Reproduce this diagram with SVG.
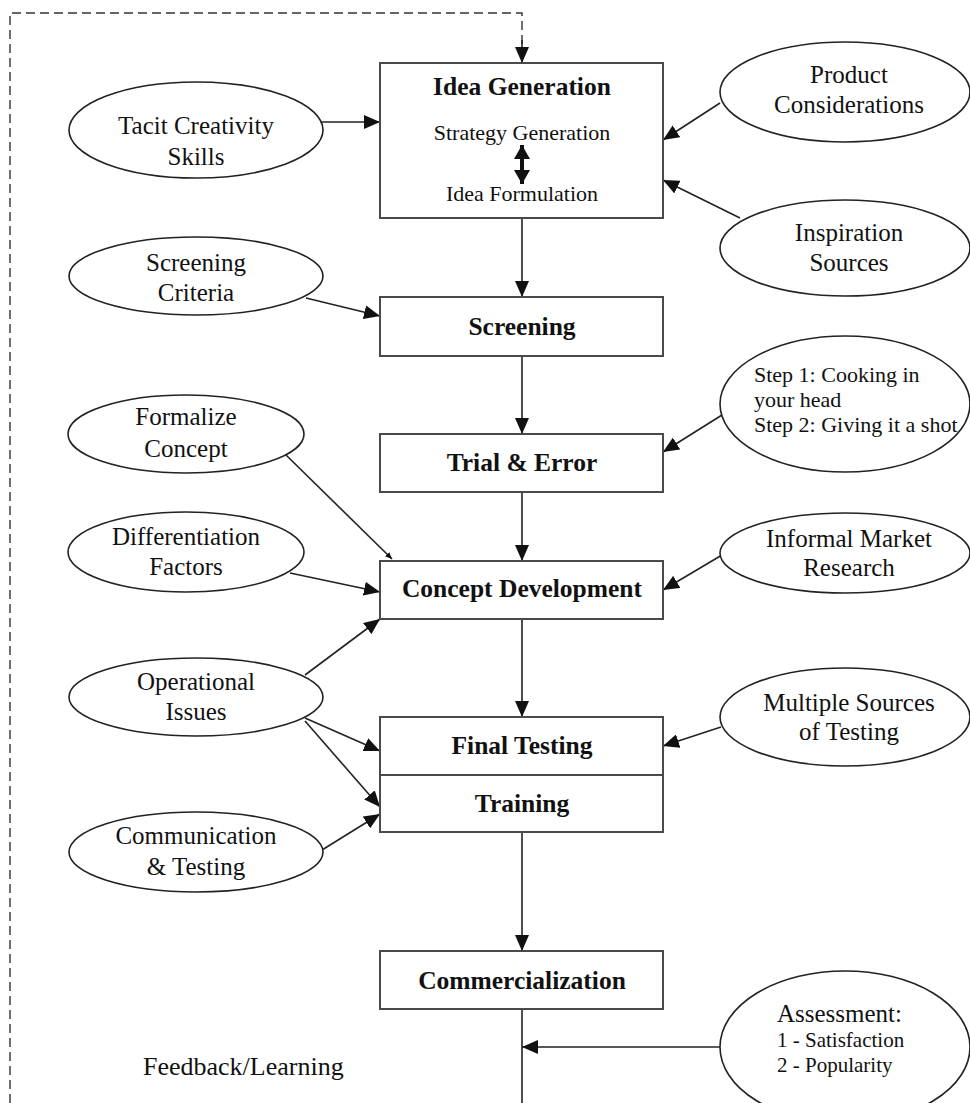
<svg xmlns="http://www.w3.org/2000/svg" width="970" height="1103" viewBox="0 0 970 1103">
  <defs>
    <marker id="head" markerUnits="userSpaceOnUse" markerWidth="16" markerHeight="14" viewBox="0 0 16 14" refX="16" refY="7" orient="auto">
      <path d="M0,0 L16,7 L0,14 z" fill="#111"/>
    </marker>
    <marker id="headSmall" markerUnits="userSpaceOnUse" markerWidth="7" markerHeight="6" viewBox="0 0 7 6" refX="7" refY="3" orient="auto">
      <path d="M0,0 L7,3 L0,6 z" fill="#111"/>
    </marker>
    <marker id="headDouble" markerUnits="userSpaceOnUse" markerWidth="14" markerHeight="16" viewBox="0 0 14 16" refX="14" refY="8" orient="auto-start-reverse">
      <path d="M0,0 L14,8 L0,16 z" fill="#111"/>
    </marker>
    <style>
      .box { fill: #fff; stroke: #4a4a4a; stroke-width: 2; }
      .oval { fill: #fff; stroke: #222; stroke-width: 1.6; }
      .title { font-family: "Liberation Serif", "Times New Roman", serif; font-weight: bold; font-size: 25.5px; fill: #111; text-anchor: middle; }
      .lbl { font-family: "Liberation Serif", "Times New Roman", serif; font-size: 25px; fill: #111; text-anchor: middle; }
      .sub { font-family: "Liberation Serif", "Times New Roman", serif; font-size: 22px; fill: #111; text-anchor: middle; }
      .subl { font-family: "Liberation Serif", "Times New Roman", serif; font-size: 22px; fill: #111; text-anchor: start; }
      .small { font-family: "Liberation Serif", "Times New Roman", serif; font-size: 21px; fill: #111; text-anchor: start; }
      .conn { fill: none; stroke: #222; stroke-width: 1.6; marker-end: url(#head); }
      .plain { fill: none; stroke: #222; stroke-width: 1.6; }
      .dash { fill: none; stroke: #333; stroke-width: 1.4; stroke-dasharray: 9 5; }
    </style>
  </defs>

  <!-- connectors -->
  <g id="connectors">
    <!-- feedback loop back to the start -->
    <path class="dash" d="M10,1103 L10,13 L522,13 L522,49"/>
    <path class="conn" d="M522,40 L522,63" stroke-dasharray="9 5"/>

    <!-- main flow -->
    <line class="conn" x1="522" y1="218" x2="522" y2="297"/>
    <line class="conn" x1="522" y1="356" x2="522" y2="434"/>
    <line class="conn" x1="522" y1="492" x2="522" y2="561"/>
    <line class="conn" x1="522" y1="619" x2="522" y2="717"/>
    <line class="conn" x1="522" y1="832" x2="522" y2="951"/>
    <line class="plain" x1="522" y1="1009" x2="522" y2="1103"/>

    <!-- inputs from the left -->
    <line class="conn" x1="322" y1="122" x2="380" y2="122"/>
    <line class="conn" x1="306" y1="298" x2="380" y2="316"/>
    <line class="plain" x1="286" y1="455" x2="392" y2="559" marker-end="url(#headSmall)"/>
    <line class="conn" x1="290" y1="573" x2="380" y2="592"/>
    <line class="conn" x1="305" y1="675" x2="380" y2="619"/>
    <line class="conn" x1="305" y1="718" x2="380" y2="751"/>
    <line class="conn" x1="305" y1="721" x2="380" y2="807"/>
    <line class="conn" x1="322" y1="850" x2="380" y2="814"/>

    <!-- inputs from the right -->
    <line class="conn" x1="720" y1="103" x2="663" y2="140"/>
    <line class="conn" x1="740" y1="218" x2="663" y2="180"/>
    <line class="conn" x1="722" y1="415" x2="663" y2="452"/>
    <line class="conn" x1="722" y1="555" x2="663" y2="590"/>
    <line class="conn" x1="721" y1="727" x2="663" y2="746"/>
    <line class="conn" x1="720" y1="1047" x2="522" y2="1047"/>
  </g>

  <!-- process boxes -->
  <g id="idea-generation">
    <rect class="box" x="380" y="63" width="283" height="155"/>
    <text class="title" x="522" y="95">Idea Generation</text>
    <text class="sub" x="522" y="140">Strategy Generation</text>
    <line x1="522" y1="145" x2="522" y2="184" stroke="#111" stroke-width="4" marker-start="url(#headDouble)" marker-end="url(#headDouble)"/>
    <text class="sub" x="522" y="201">Idea Formulation</text>
  </g>
  <g id="screening">
    <rect class="box" x="380" y="297" width="283" height="59"/>
    <text class="title" x="522" y="335">Screening</text>
  </g>
  <g id="trial-error">
    <rect class="box" x="380" y="434" width="283" height="58"/>
    <text class="title" x="522" y="471">Trial &amp; Error</text>
  </g>
  <g id="concept-development">
    <rect class="box" x="380" y="561" width="283" height="58"/>
    <text class="title" x="522" y="597">Concept Development</text>
  </g>
  <g id="final-testing-training">
    <rect class="box" x="380" y="717" width="283" height="115"/>
    <line x1="380" y1="775" x2="663" y2="775" stroke="#4a4a4a" stroke-width="2"/>
    <text class="title" x="522" y="754">Final Testing</text>
    <text class="title" x="522" y="812">Training</text>
  </g>
  <g id="commercialization">
    <rect class="box" x="380" y="951" width="283" height="58"/>
    <text class="title" x="522" y="989">Commercialization</text>
  </g>

  <!-- influencing factors, left column -->
  <g id="tacit-creativity">
    <ellipse class="oval" cx="196" cy="130" rx="127" ry="48"/>
    <text class="lbl" x="196" y="134">Tacit Creativity</text>
    <text class="lbl" x="196" y="165">Skills</text>
  </g>
  <g id="screening-criteria">
    <ellipse class="oval" cx="196" cy="276" rx="127" ry="39"/>
    <text class="lbl" x="196" y="271">Screening</text>
    <text class="lbl" x="196" y="301">Criteria</text>
  </g>
  <g id="formalize-concept">
    <ellipse class="oval" cx="186" cy="434" rx="118" ry="39"/>
    <text class="lbl" x="186" y="425">Formalize</text>
    <text class="lbl" x="186" y="457">Concept</text>
  </g>
  <g id="differentiation-factors">
    <ellipse class="oval" cx="186" cy="552" rx="118" ry="40"/>
    <text class="lbl" x="186" y="545">Differentiation</text>
    <text class="lbl" x="186" y="575">Factors</text>
  </g>
  <g id="operational-issues">
    <ellipse class="oval" cx="196" cy="697" rx="127" ry="39"/>
    <text class="lbl" x="196" y="690">Operational</text>
    <text class="lbl" x="196" y="720">Issues</text>
  </g>
  <g id="communication-testing">
    <ellipse class="oval" cx="196" cy="852" rx="127" ry="40"/>
    <text class="lbl" x="196" y="844">Communication</text>
    <text class="lbl" x="196" y="875">&amp; Testing</text>
  </g>

  <!-- influencing factors, right column -->
  <g id="product-considerations">
    <ellipse class="oval" cx="845" cy="92" rx="125" ry="50"/>
    <text class="lbl" x="849" y="83">Product</text>
    <text class="lbl" x="849" y="113">Considerations</text>
  </g>
  <g id="inspiration-sources">
    <ellipse class="oval" cx="845" cy="248" rx="125" ry="48"/>
    <text class="lbl" x="849" y="241">Inspiration</text>
    <text class="lbl" x="849" y="271">Sources</text>
  </g>
  <g id="trial-steps">
    <ellipse class="oval" cx="845" cy="404" rx="125" ry="68"/>
    <text class="subl" x="754" y="382">Step 1: Cooking in</text>
    <text class="subl" x="754" y="407">your head</text>
    <text class="subl" x="754" y="432">Step 2: Giving it a shot</text>
  </g>
  <g id="informal-market-research">
    <ellipse class="oval" cx="845" cy="553" rx="125" ry="40"/>
    <text class="lbl" x="849" y="547">Informal Market</text>
    <text class="lbl" x="849" y="576">Research</text>
  </g>
  <g id="multiple-sources">
    <ellipse class="oval" cx="845" cy="717" rx="125" ry="49"/>
    <text class="lbl" x="849" y="711">Multiple Sources</text>
    <text class="lbl" x="849" y="740">of Testing</text>
  </g>
  <g id="assessment">
    <ellipse class="oval" cx="845" cy="1047" rx="125" ry="76"/>
    <text class="lbl" x="777" y="1022" style="text-anchor:start">Assessment:</text>
    <text class="small" x="777" y="1047">1 - Satisfaction</text>
    <text class="small" x="777" y="1072">2 - Popularity</text>
  </g>

  <g id="feedback-label">
    <text class="lbl" x="143" y="1075" style="text-anchor:start;font-size:26px">Feedback/Learning</text>
  </g>
</svg>
